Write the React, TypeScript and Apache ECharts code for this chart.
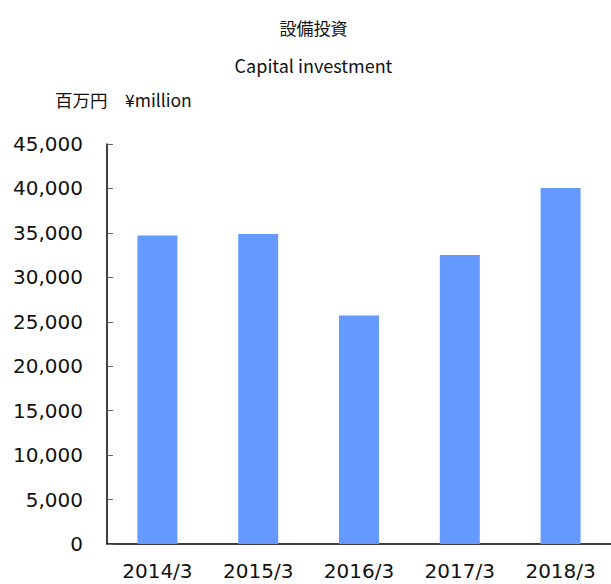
import React, { useEffect, useRef } from "react";
import * as echarts from "echarts";

const categories = ["2014/3", "2015/3", "2016/3", "2017/3", "2018/3"];
const capitalInvestment = [34700, 34870, 25700, 32500, 40050];
const titleJa = "設備投資";
const titleEn = "Capital investment";
const unitLabel = "百万円　¥million";

export default function App() {
  const ref = useRef<HTMLDivElement>(null);
  useEffect(() => {
    if (!ref.current) return;
    const chart = echarts.init(ref.current, undefined, { renderer: "svg" });
    const font = "'Noto Sans CJK JP', 'Noto Sans', sans-serif";
    chart.setOption({
      animation: false,
      backgroundColor: "#ffffff",
      grid: { left: 107, right: 0, top: 144, bottom: 40, containLabel: false },
      graphic: [
        { type: "text", x: 313.5, y: 27, style: { text: titleJa, fontSize: 17, fontFamily: font, fill: "#111", textAlign: "center", textVerticalAlign: "middle" } },
        { type: "text", x: 313.5, y: 65, style: { text: titleEn, fontSize: 18, fontFamily: font, fill: "#111", textAlign: "center", textVerticalAlign: "middle" } },
        { type: "text", x: 55, y: 99, style: { text: unitLabel, fontSize: 17.5, fontFamily: font, fill: "#111", textAlign: "left", textVerticalAlign: "middle" } },
      ],
      xAxis: {
        type: "category",
        data: categories,
        boundaryGap: true,
        axisLine: { lineStyle: { color: "#000", width: 1.5 } },
        axisTick: { inside: true, length: 7, lineStyle: { color: "#888" } },
        axisLabel: { fontSize: 20, color: "#111", margin: 17, fontFamily: "'DejaVu Sans', sans-serif" },
      },
      yAxis: {
        type: "value",
        min: 0,
        max: 45000,
        interval: 5000,
        splitLine: { show: false },
        axisLine: { show: true, lineStyle: { color: "#000", width: 1.5 } },
        axisTick: { show: true, inside: true, length: 6, lineStyle: { color: "#666" } },
        axisLabel: {
          fontSize: 20,
          color: "#111",
          margin: 24,
          fontFamily: "'DejaVu Sans', sans-serif",
          formatter: (v: number) => v.toLocaleString("en-US"),
        },
      },
      series: [
        {
          type: "bar",
          data: capitalInvestment,
          barWidth: 40,
          itemStyle: { color: "#6699ff" },
        },
      ],
    });
    return () => chart.dispose();
  }, []);
  return <div ref={ref} style={{ position: "fixed", left: 0, top: 0, width: 611, height: 584 }} />;
}
